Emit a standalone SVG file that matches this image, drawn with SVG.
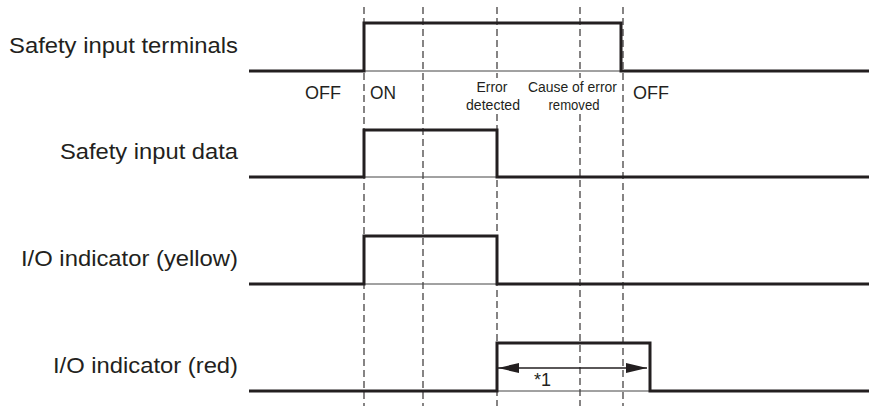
<svg xmlns="http://www.w3.org/2000/svg" width="869" height="406" viewBox="0 0 869 406">
<style>
.bg{fill:#fff}
.wave{fill:none;stroke:#231f20;stroke-width:3;stroke-linejoin:miter;stroke-linecap:butt}
.thin{fill:none;stroke:#444;stroke-width:1}
.dash{fill:none;stroke:#231f20;stroke-width:1.1;stroke-dasharray:7 4}
.lbl{font-family:"Liberation Sans",Arial,sans-serif;font-size:22px;fill:#231f20;text-anchor:end}
.st{font-family:"Liberation Sans",Arial,sans-serif;font-size:18px;fill:#231f20}
.cd{font-family:"Liberation Sans",Arial,sans-serif;font-size:15.5px;fill:#231f20;text-anchor:middle}
.arr{fill:none;stroke:#231f20;stroke-width:1.3}
</style>
<defs>
<marker id="ah" viewBox="0 0 21 10" refX="21" refY="5" markerWidth="21" markerHeight="10" markerUnits="userSpaceOnUse" orient="auto-start-reverse">
<path d="M0,0 L21,5 L0,10 Z" fill="#231f20"/>
</marker>
</defs>
<rect class="bg" x="0" y="0" width="869" height="406"/>
<g id="connectors">
<line class="dash" x1="364" y1="7" x2="364" y2="406"/>
<line class="dash" x1="423" y1="7" x2="423" y2="406"/>
<line class="dash" x1="497" y1="7" x2="497" y2="78"/>
<line class="dash" x1="497" y1="114" x2="497" y2="406"/>
<line class="dash" x1="580" y1="7" x2="580" y2="78"/>
<line class="dash" x1="580" y1="114" x2="580" y2="406"/>
<line class="dash" x1="623" y1="7" x2="623" y2="406"/>
<line class="arr" x1="498" y1="368" x2="647" y2="368" marker-start="url(#ah)" marker-end="url(#ah)"/>
</g>
<g id="safety-input-terminals">
<text class="lbl" x="238" y="53" textLength="229" lengthAdjust="spacingAndGlyphs">Safety input terminals</text>
<line class="thin" x1="364" y1="71" x2="621" y2="71"/>
<path class="wave" d="M249,71 H364 V23 H621 V71 H869"/>
<text class="st" x="305" y="99" textLength="36" lengthAdjust="spacingAndGlyphs">OFF</text>
<text class="st" x="370" y="99" textLength="26" lengthAdjust="spacingAndGlyphs">ON</text>
<text class="cd" x="492" y="92" textLength="31" lengthAdjust="spacingAndGlyphs">Error</text>
<text class="cd" x="493" y="110" textLength="54" lengthAdjust="spacingAndGlyphs">detected</text>
<text class="cd" x="572.5" y="92" textLength="89" lengthAdjust="spacingAndGlyphs">Cause of error</text>
<text class="cd" x="574" y="110" textLength="51" lengthAdjust="spacingAndGlyphs">removed</text>
<text class="st" x="633" y="99" textLength="36" lengthAdjust="spacingAndGlyphs">OFF</text>
</g>
<g id="safety-input-data">
<text class="lbl" x="238" y="159" textLength="178" lengthAdjust="spacingAndGlyphs">Safety input data</text>
<line class="thin" x1="364" y1="177" x2="497" y2="177"/>
<path class="wave" d="M249,177 H364 V130 H497 V177 H869"/>
</g>
<g id="io-indicator-yellow">
<text class="lbl" x="238" y="266" textLength="217" lengthAdjust="spacingAndGlyphs">I/O indicator (yellow)</text>
<line class="thin" x1="364" y1="284" x2="497" y2="284"/>
<path class="wave" d="M249,284 H364 V236 H497 V284 H869"/>
</g>
<g id="io-indicator-red">
<text class="lbl" x="238" y="373" textLength="185" lengthAdjust="spacingAndGlyphs">I/O indicator (red)</text>
<line class="thin" x1="497" y1="391" x2="650" y2="391"/>
<path class="wave" d="M249,391 H497 V343 H650 V391 H869"/>
<text class="st" x="534" y="386" textLength="17" lengthAdjust="spacingAndGlyphs">*1</text>
</g>
</svg>
